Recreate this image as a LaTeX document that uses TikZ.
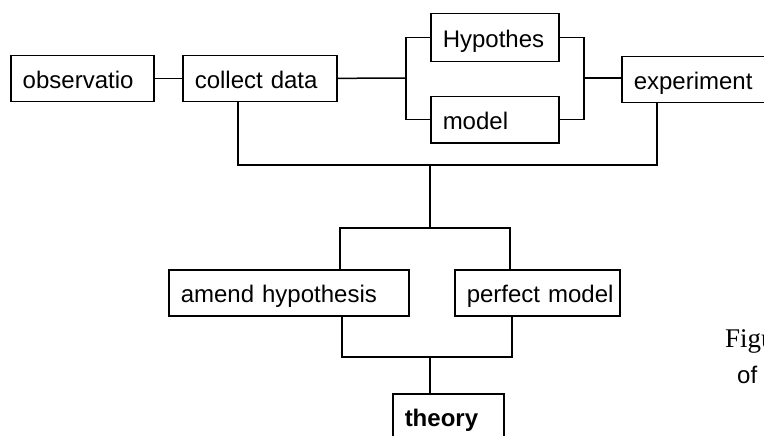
\documentclass[tikz,border=0pt]{standalone}
\usepackage{fontspec}
\setmainfont{Liberation Sans}
\newfontfamily\captionfont{Liberation Serif}
\begin{document}
\begin{tikzpicture}[
		x=1pt, y=-1pt,
		stage/.style={draw, line width=1.5pt, anchor=north west, align=left,
			inner xsep=12pt, inner ysep=0pt, text height=33pt, text depth=13pt,
			text width=#1, font=\fontsize{24}{28}\selectfont},
		wire/.style={line width=1.5pt}
	]
		\useasboundingbox (0,0) rectangle (764,436);
		\clip (0,0) rectangle (764,436);
		
		% Top row
		\node[stage=119pt] (obs) at (10,55) {observatio};
		\node[stage=130pt] (collect) at (182,55) {collect~data};
		\node[stage=104pt, text height=34pt, text depth=14pt] (hyp) at (430,13) {Hypothes};
		\node[stage=104pt] (model) at (430,96) {model};
		\node[stage=160pt] (exper) at (621,56) {experiment};
		
		% Lower rows
		\node[stage=216pt] (amend) at (168,269) {amend~hypothesis};
		\node[stage=141pt] (perfect) at (454,269) {perfect~model};
		\node[stage=87pt, font=\fontsize{24}{28}\selectfont\bfseries] (theory) at (392,393) {theory};
		
		% Junctions
		\coordinate (split) at (406,78);
		\coordinate (join) at (584,78);
		\coordinate (merge) at (430,165);
		\coordinate (fork) at (430,228);
		\coordinate (unite) at (430,357);
		
		% Connectors
		\draw[wire] (obs) -- (collect);
		\draw[wire] (collect) -- (split);
		\draw[wire] (hyp) -| (split) |- (model);
		\draw[wire] (hyp) -| (join) |- (model);
		\draw[wire] (join) -- (exper.west |- join);
		\draw[wire] ([xshift=56pt]collect.south west) |- (merge);
		\draw[wire] ([xshift=36pt]exper.south west) |- (merge);
		\draw[wire] (merge) -- (fork);
		\draw[wire] ([xshift=172pt]amend.north west) |- (fork) -| ([xshift=56pt]perfect.north west);
		\draw[wire] ([xshift=174pt]amend.south west) |- (unite) -| ([xshift=58pt]perfect.south west);
		\draw[wire] (unite) -- ([xshift=38pt]theory.north west);
		
		% Caption fragments
		\node[anchor=base west, inner sep=0pt, font=\captionfont\fontsize{27}{32}\selectfont] (figcap) at (725,347) {Figu};
		\node[anchor=base west, inner sep=0pt, font=\fontsize{24}{28}\selectfont] (ofcap) at (737,383) {of};
	\end{tikzpicture}
\end{document}
